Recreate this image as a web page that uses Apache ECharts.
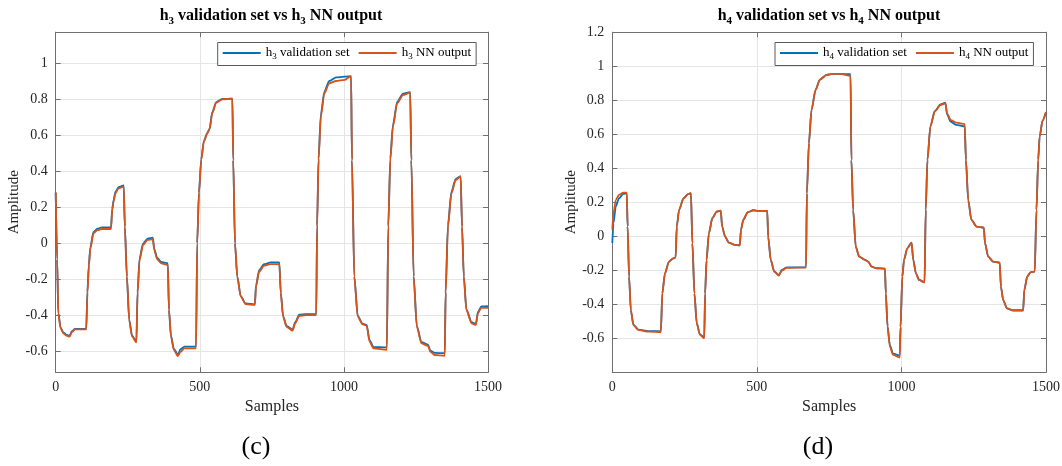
<!DOCTYPE html>
<html>
<head>
<meta charset="utf-8">
<script src="https://cdn.jsdelivr.net/npm/echarts@6/dist/echarts.min.js"></script>
<style>
html,body{margin:0;padding:0;background:#fff;}
#chart{width:1062px;height:466px;}
</style>
</head>
<body>
<div id="chart"></div>
<script>
// ---------- data ----------
const h3Samples = [0,5,9,17,27,38,48,56,67,106,110,115,120,131,145,160,192,196,201,207,218,236,240,247,255,265,280,284,291,303,319,337,342,352,366,389,393,400,410,424,433,447,487,491,497,505,514,526,534,543,557,578,613,616,622,630,642,659,691,695,706,723,746,776,781,789,801,822,831,845,868,904,907,912,920,932,949,973,1002,1025,1028,1036,1048,1065,1079,1089,1103,1149,1154,1161,1170,1185,1205,1230,1234,1242,1253,1269,1292,1300,1315,1350,1353,1361,1373,1388,1405,1410,1416,1425,1443,1458,1465,1477,1500];
const h3Output = [0.28,-0.09,-0.39,-0.474,-0.502,-0.515,-0.52,-0.495,-0.48,-0.48,-0.28,-0.13,-0.035,0.054,0.072,0.078,0.078,0.183,0.23,0.276,0.304,0.313,0.09,-0.187,-0.428,-0.52,-0.552,-0.28,-0.094,-0.011,0.017,0.022,-0.039,-0.09,-0.113,-0.122,-0.372,-0.52,-0.594,-0.628,-0.604,-0.585,-0.585,0.0,0.276,0.461,0.563,0.609,0.632,0.72,0.78,0.798,0.802,0.461,0.0,-0.187,-0.298,-0.339,-0.344,-0.242,-0.159,-0.126,-0.117,-0.118,-0.28,-0.409,-0.465,-0.487,-0.446,-0.405,-0.4,-0.4,0.09,0.461,0.702,0.831,0.887,0.9,0.906,0.928,0.461,-0.187,-0.409,-0.452,-0.459,-0.548,-0.585,-0.594,0.09,0.461,0.646,0.776,0.822,0.835,0.461,-0.187,-0.465,-0.557,-0.572,-0.604,-0.622,-0.626,-0.28,0.09,0.276,0.35,0.369,0.09,-0.187,-0.372,-0.446,-0.455,-0.39,-0.359,-0.36];
const h3Validation = [0.28,-0.09,-0.39,-0.47,-0.498,-0.51,-0.515,-0.49,-0.477,-0.477,-0.27,-0.12,-0.025,0.062,0.08,0.087,0.087,0.19,0.238,0.284,0.31,0.32,0.09,-0.187,-0.425,-0.515,-0.547,-0.27,-0.085,-0.003,0.025,0.03,-0.032,-0.082,-0.105,-0.112,-0.37,-0.515,-0.588,-0.62,-0.59,-0.575,-0.575,0.0,0.28,0.465,0.566,0.612,0.635,0.725,0.783,0.8,0.802,0.461,0.0,-0.185,-0.295,-0.336,-0.341,-0.235,-0.15,-0.118,-0.108,-0.108,-0.275,-0.405,-0.46,-0.48,-0.44,-0.398,-0.395,-0.395,0.1,0.47,0.715,0.84,0.9,0.92,0.924,0.926,0.461,-0.185,-0.405,-0.448,-0.455,-0.54,-0.578,-0.58,0.1,0.47,0.655,0.785,0.83,0.838,0.461,-0.185,-0.46,-0.55,-0.565,-0.598,-0.61,-0.612,-0.27,0.1,0.285,0.356,0.372,0.09,-0.185,-0.368,-0.44,-0.448,-0.383,-0.352,-0.35];

const h4Samples = [0,4,12,23,38,50,53,58,64,73,90,125,168,173,182,196,211,219,223,231,246,263,272,277,284,292,303,318,321,326,334,346,361,375,380,390,403,424,441,445,453,468,488,505,536,539,548,560,576,586,603,670,673,680,689,703,718,741,764,787,824,827,833,842,854,874,885,897,914,943,946,952,960,971,994,997,1003,1009,1020,1035,1041,1050,1061,1080,1084,1090,1100,1115,1135,1152,1158,1170,1190,1219,1223,1231,1242,1260,1285,1289,1300,1317,1340,1344,1352,1365,1386,1421,1425,1435,1446,1461,1467,1473,1478,1488,1500];
const h4Output = [0.04,0.135,0.213,0.243,0.257,0.257,0.057,-0.237,-0.434,-0.522,-0.551,-0.561,-0.563,-0.336,-0.218,-0.149,-0.13,-0.124,0.057,0.155,0.223,0.249,0.253,-0.041,-0.336,-0.512,-0.58,-0.6,-0.336,-0.139,0.017,0.106,0.145,0.151,0.057,-0.002,-0.037,-0.051,-0.053,0.037,0.096,0.141,0.153,0.149,0.149,-0.002,-0.139,-0.208,-0.232,-0.202,-0.186,-0.184,0.253,0.547,0.743,0.86,0.921,0.949,0.955,0.955,0.943,0.449,0.155,-0.061,-0.12,-0.139,-0.149,-0.179,-0.188,-0.19,-0.336,-0.532,-0.649,-0.698,-0.714,-0.532,-0.238,-0.139,-0.071,-0.038,-0.139,-0.218,-0.257,-0.271,0.155,0.449,0.645,0.733,0.772,0.782,0.723,0.684,0.668,0.66,0.449,0.213,0.096,0.057,0.051,-0.041,-0.12,-0.149,-0.155,-0.296,-0.375,-0.424,-0.437,-0.437,-0.316,-0.238,-0.212,-0.208,0.155,0.449,0.586,0.68,0.73];
const h4Validation = [-0.04,0.076,0.174,0.223,0.249,0.253,0.057,-0.237,-0.434,-0.52,-0.549,-0.558,-0.558,-0.336,-0.218,-0.149,-0.13,-0.124,0.057,0.155,0.223,0.249,0.253,-0.041,-0.336,-0.51,-0.577,-0.595,-0.336,-0.139,0.017,0.106,0.145,0.151,0.057,-0.002,-0.037,-0.051,-0.053,0.037,0.096,0.141,0.153,0.149,0.149,-0.002,-0.139,-0.206,-0.228,-0.198,-0.183,-0.182,0.253,0.547,0.743,0.86,0.921,0.949,0.955,0.955,0.953,0.449,0.155,-0.061,-0.12,-0.139,-0.149,-0.179,-0.188,-0.19,-0.336,-0.53,-0.64,-0.69,-0.702,-0.532,-0.238,-0.139,-0.071,-0.038,-0.139,-0.218,-0.257,-0.271,0.155,0.449,0.645,0.735,0.775,0.785,0.715,0.675,0.655,0.645,0.449,0.213,0.096,0.057,0.051,-0.041,-0.12,-0.149,-0.155,-0.296,-0.375,-0.424,-0.435,-0.435,-0.316,-0.238,-0.212,-0.208,0.155,0.449,0.586,0.68,0.73];

const xTickStep = 500;
const h3YRange = [-0.718, 1.171];
const h4YRange = [-0.8, 1.2];
const titles = ['h3 validation set vs h3 NN output', 'h4 validation set vs h4 NN output'];
const captions = ['(c)', '(d)'];
const h3Names = ['h3 validation set', 'h3 NN output'];
const h4Names = ['h4 validation set', 'h4 NN output'];

// ---------- chart ----------
const F = "'Liberation Serif','Times New Roman',serif";
const BLUE = '#0072BD', ORANGE = '#D95319';
const AX = '#707070', TXT = '#262626', GRID = '#e5e5e5';

function sub(s, big, small) {
  return s.replace(/h(\d)/g, '\u0001$1\u0002').split(/(\u0001\d\u0002)/).filter(t => t.length)
    .map(t => t[0] === '\u0001' ? '{' + big + '|h}{' + small + '|' + t[1] + '}' : '{' + big + '|' + t + '}').join('');
}

const grids = [
  {left: 55.7, top: 32.2, width: 432.3, height: 340.1},
  {left: 612.3, top: 32.2, width: 433.7, height: 340.1}
];

function xAxis(gi, pos) {
  const main = pos === 'bottom';
  return {
    type: 'value', gridIndex: gi, position: pos, min: 0, max: 1500, interval: xTickStep,
    axisLine: {show: true, onZero: false, lineStyle: {color: AX, width: 1}},
    axisTick: {show: true, inside: true, length: 5, lineStyle: {color: AX}},
    axisLabel: {show: main, color: TXT, fontFamily: F, fontSize: 14, margin: 8, formatter: v => String(v)},
    splitLine: {show: main, lineStyle: {color: GRID, width: 1}},
    name: main ? 'Samples' : '', nameLocation: 'middle', nameGap: 26,
    nameTextStyle: {color: TXT, fontFamily: F, fontSize: 16}
  };
}
function yAxis(gi, pos, rng, extra) {
  const main = pos === 'left';
  return Object.assign({
    type: 'value', gridIndex: gi, position: pos, min: rng[0], max: rng[1],
    axisLine: {show: true, onZero: false, lineStyle: {color: AX, width: 1}},
    axisTick: {show: true, inside: true, length: 5, lineStyle: {color: AX}},
    axisLabel: {show: main, color: TXT, fontFamily: F, fontSize: 14, margin: 8, showMinLabel: false, showMaxLabel: gi === 1},
    splitLine: {show: main, lineStyle: {color: GRID, width: 1}},
    name: main ? 'Amplitude' : '', nameLocation: 'middle', nameGap: gi === 0 ? 34 : 31,
    nameTextStyle: {color: TXT, fontFamily: F, fontSize: 15}
  }, extra);
}
const h3Extra = {splitNumber: 9};
const h4Extra = {interval: 0.2};

function pairs(xs, ys) { return xs.map((x, i) => [x, ys[i]]); }

const titleRich = {
  b: {fontFamily: F, fontWeight: 'bold', fontSize: 16, color: '#000', lineHeight: 22, verticalAlign: 'middle'},
  s: {fontFamily: F, fontWeight: 'bold', fontSize: 11, color: '#000', lineHeight: 11, verticalAlign: 'bottom'}
};
const legRich = {
  n: {fontFamily: F, fontSize: 13, color: '#000', lineHeight: 17, verticalAlign: 'middle'},
  s: {fontFamily: F, fontSize: 9, color: '#000', lineHeight: 9, verticalAlign: 'bottom'}
};

function legend(names, left) {
  return {
    data: names, left: left, top: 42.5, orient: 'horizontal', icon: 'rect',
    itemWidth: 38, itemHeight: 2, itemGap: 9, padding: [4, 5, 4, 5],
    backgroundColor: '#fff', borderColor: '#5a5a5a', borderWidth: 1,
    formatter: n => sub(n, 'n', 's'),
    textStyle: {fontFamily: F, fontSize: 13, color: '#000', rich: legRich}
  };
}

function line(name, xi, xs, ys, color) {
  return {name: name, type: 'line', xAxisIndex: xi, yAxisIndex: xi, data: pairs(xs, ys),
    showSymbol: false, smooth: 0.25, smoothMonotone: 'x',
    lineStyle: {color: color, width: 1.8}, itemStyle: {color: color}};
}

const option = {
  animation: false,
  backgroundColor: '#fff',
  title: [
    {text: sub(titles[0], 'b', 's'), left: 271, top: 5, textAlign: 'center', padding: 0, textStyle: {rich: titleRich}},
    {text: sub(titles[1], 'b', 's'), left: 829, top: 5, textAlign: 'center', padding: 0, textStyle: {rich: titleRich}},
    {text: captions[0], left: 256, top: 434, textAlign: 'center', padding: 0, textStyle: {fontFamily: F, fontWeight: 'normal', fontSize: 26, color: '#000'}},
    {text: captions[1], left: 818, top: 434, textAlign: 'center', padding: 0, textStyle: {fontFamily: F, fontWeight: 'normal', fontSize: 26, color: '#000'}}
  ],
  legend: [legend(h3Names, 217.7), legend(h4Names, 775)],
  grid: grids.map(g => Object.assign({containLabel: false, outerBoundsMode: 'none'}, g)),
  xAxis: [xAxis(0, 'bottom'), xAxis(1, 'bottom'), xAxis(0, 'top'), xAxis(1, 'top')],
  yAxis: [yAxis(0, 'left', h3YRange, h3Extra), yAxis(1, 'left', h4YRange, h4Extra),
          yAxis(0, 'right', h3YRange, h3Extra), yAxis(1, 'right', h4YRange, h4Extra)],
  series: [
    line(h3Names[0], 0, h3Samples, h3Validation, BLUE),
    line(h3Names[1], 0, h3Samples, h3Output, ORANGE),
    line(h4Names[0], 1, h4Samples, h4Validation, BLUE),
    line(h4Names[1], 1, h4Samples, h4Output, ORANGE)
  ]
};

const chart = echarts.init(document.getElementById('chart'), null, {renderer: 'canvas'});
chart.setOption(option);
</script>
</body>
</html>
